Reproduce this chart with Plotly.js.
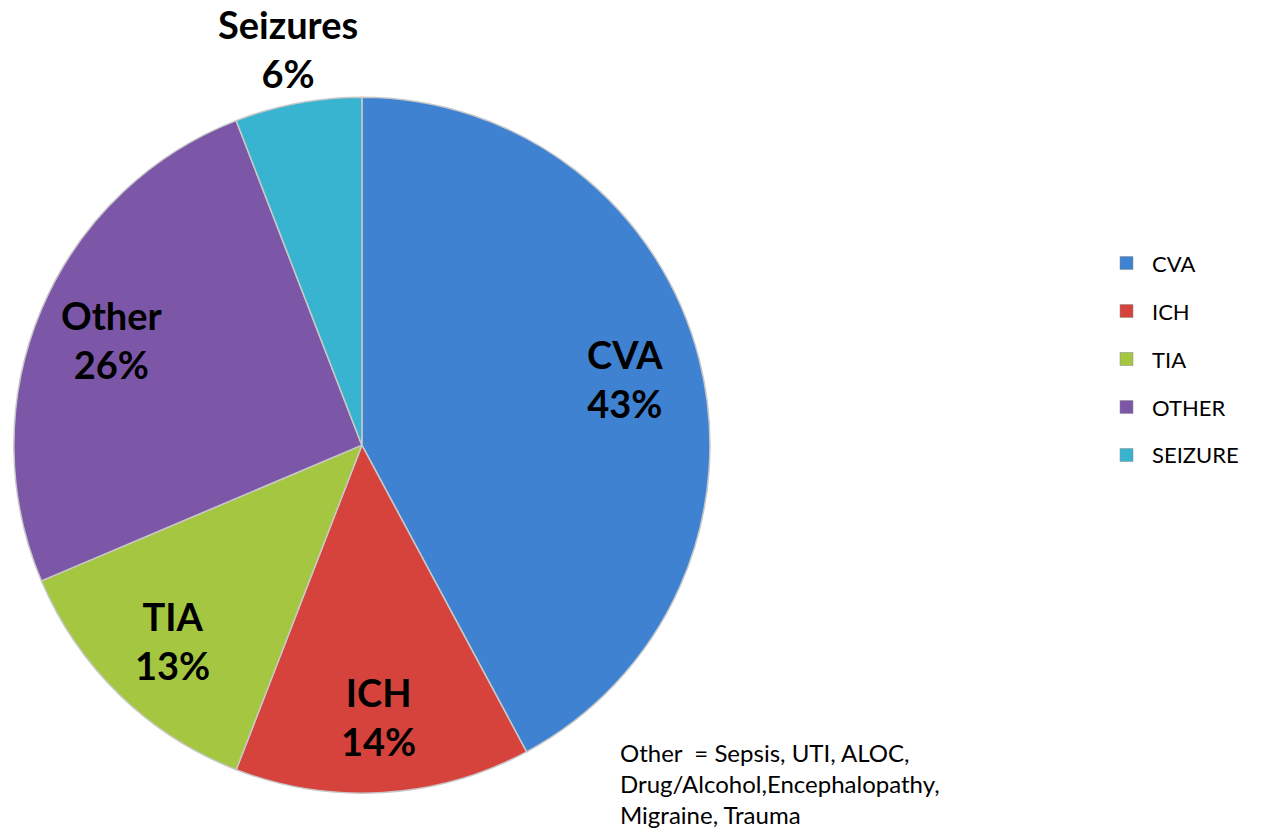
<!DOCTYPE html>
<html>
<head>
<meta charset="utf-8">
<script src="https://cdn.plot.ly/plotly-3.0.1.min.js"></script>
<style>html,body{margin:0;padding:0;background:#fff;}#chart{width:1261px;height:829px;}</style>
</head>
<body>
<div id="chart"></div>
<script>
const categories = ["CVA", "ICH", "TIA", "OTHER", "SEIZURE"];
const sliceNames = ["CVA", "ICH", "TIA", "Other", "Seizures"];
const percentValues = [43, 14, 13, 26, 6];
const labelPlacement = ["inside", "inside", "inside", "inside", "outside"];
const sliceColors = ["#4082d2", "#d6433d", "#a5c640", "#7c56a7", "#38b4d0"];
const footnoteLines = ["Other  = Sepsis, UTI, ALOC,", "Drug/Alcohol,Encephalopathy,", "Migraine, Trauma"];

const W = 1261, H = 829;
const FONT = "Lato, 'Open Sans', sans-serif";
const dom = {x: [0.011, 0.563], y: [0.043, 0.883]};

const trace = {
  type: "pie",
  labels: categories,
  values: percentValues,
  textinfo: "none",
  hoverinfo: "label+percent",
  sort: false,
  direction: "clockwise",
  rotation: 0,
  marker: {colors: sliceColors, line: {color: "#c8c8c8", width: 1.5}},
  domain: dom,
  showlegend: false
};

// Slice labels positioned from the data (mid-angle of each slice)
const cx = (dom.x[0] + dom.x[1]) / 2 * W;
const cy = (1 - (dom.y[0] + dom.y[1]) / 2) * H;
const R = Math.min((dom.x[1] - dom.x[0]) * W, (dom.y[1] - dom.y[0]) * H) / 2;
const total = percentValues.reduce((a, b) => a + b, 0);
const annotations = [];
let cum = 0;
percentValues.forEach((v, i) => {
  const theta = 2 * Math.PI * (cum + v / 2) / total;
  cum += v;
  const r = R * (labelPlacement[i] === "inside" ? 0.78 : 1.16);
  const px = cx + r * Math.sin(theta);
  const py = cy - r * Math.cos(theta);
  annotations.push({
    xref: "paper", yref: "paper", x: px / W, y: 1 - py / H,
    xanchor: "center", yanchor: "middle", showarrow: false,
    text: "<b>" + sliceNames[i] + "<br>" + v + "%</b>",
    font: {family: FONT, size: 38, color: "#000"}
  });
});

// Legend (manual, to match spacing)
const shapes = [];
categories.forEach((c, i) => {
  const yc = 263 + 48 * i;
  shapes.push({
    type: "rect", xref: "paper", yref: "paper",
    x0: 1120 / W, x1: 1133 / W, y0: 1 - (yc + 6.5) / H, y1: 1 - (yc - 6.5) / H,
    fillcolor: sliceColors[i], line: {color: "#888", width: 0.5}
  });
  annotations.push({
    xref: "paper", yref: "paper", x: 1150 / W, y: 1 - yc / H,
    xanchor: "left", yanchor: "middle", showarrow: false,
    text: c, font: {family: FONT, size: 22, color: "#000"}
  });
});

// Footnote
footnoteLines.forEach((line, i) => {
  annotations.push({
    xref: "paper", yref: "paper", x: 618 / W, y: 1 - (752 + 31 * i) / H,
    xanchor: "left", yanchor: "middle", showarrow: false, align: "left",
    text: line, font: {family: FONT, size: 24, color: "#000"}
  });
});

const layout = {
  width: W,
  height: H,
  margin: {l: 0, r: 0, t: 0, b: 0},
  paper_bgcolor: "#fff",
  showlegend: false,
  annotations: annotations,
  shapes: shapes
};

Plotly.newPlot("chart", [trace], layout, {displayModeBar: false});
</script>
</body>
</html>
